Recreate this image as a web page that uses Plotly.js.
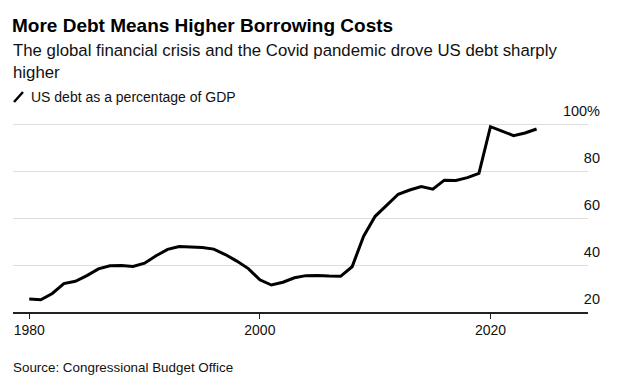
<!DOCTYPE html>
<html>
<head>
<meta charset="utf-8">
<script src="https://cdn.plot.ly/plotly-3.0.1.min.js"></script>
<style>
  html, body { margin: 0; padding: 0; background: #ffffff; }
  #chart { width: 633px; height: 383px; }
</style>
</head>
<body>
<div id="chart"></div>
<script>
// ---- Data ----
const years = [1980, 1981, 1982, 1983, 1984, 1985, 1986, 1987, 1988, 1989,
               1990, 1991, 1992, 1993, 1994, 1995, 1996, 1997, 1998, 1999,
               2000, 2001, 2002, 2003, 2004, 2005, 2006, 2007, 2008, 2009,
               2010, 2011, 2012, 2013, 2014, 2015, 2016, 2017, 2018, 2019,
               2020, 2021, 2022, 2023, 2024];
const debtPctGdp = [25.5, 25.2, 27.9, 32.1, 33.1, 35.5, 38.4, 39.7, 39.8, 39.4,
                    40.8, 44.0, 46.7, 47.9, 47.7, 47.5, 46.8, 44.5, 41.7, 38.5,
                    33.7, 31.5, 32.7, 34.6, 35.5, 35.6, 35.3, 35.2, 39.3, 52.3,
                    60.8, 65.3, 70.2, 72.0, 73.5, 72.4, 76.2, 76.1, 77.3, 79.1,
                    99.0, 97.1, 95.2, 96.3, 98.0];
const xTickVals = [1980, 2000, 2020];
const xTickText = ["1980", "2000", "2020"];
const yTickVals = [20, 40, 60, 80, 100];
const yTickText = ["20", "40", "60", "80", "100%"];

const titleText = "More Debt Means Higher Borrowing Costs";
const subtitleText = "The global financial crisis and the Covid pandemic drove US debt sharply<br>higher";
const seriesName = "US debt as a percentage of GDP";
const sourceText = "Source: Congressional Budget Office";

// ---- Layout geometry (pixels) ----
const W = 633, H = 383;
const M = { l: 13, r: 45, t: 122, b: 71 };
const plotW = W - M.l - M.r;
const plotH = H - M.t - M.b;
const px = (x) => (x - M.l) / plotW;          // pixel x -> paper x
const py = (y) => (H - M.b - y) / plotH;      // pixel y -> paper y

const FONT = "Liberation Sans, Arial, Helvetica, sans-serif";

const trace = {
  type: "scatter",
  mode: "lines",
  x: years,
  y: debtPctGdp,
  name: seriesName,
  line: { color: "#000000", width: 3 },
  hoverinfo: "skip",
  showlegend: false
};

const layout = {
  width: W,
  height: H,
  margin: M,
  paper_bgcolor: "#ffffff",
  plot_bgcolor: "#ffffff",
  font: { family: FONT, color: "#111111", size: 14 },
  showlegend: false,
  title: {
    text: "<b>" + titleText + "</b>",
    font: { family: FONT, size: 19, color: "#000000" },
    xref: "container", yref: "container",
    x: 12 / W, xanchor: "left",
    y: 1 - 25 / H, yanchor: "middle",
    pad: { t: 0, b: 0, l: 0, r: 0 }
  },
  xaxis: {
    range: [1978.59, 2028.46],
    tickmode: "array",
    tickvals: xTickVals,
    ticktext: xTickText,
    ticks: "outside",
    ticklen: 5,
    tickwidth: 1,
    tickcolor: "#222222",
    showline: true,
    linecolor: "#222222",
    linewidth: 1.5,
    showgrid: false,
    zeroline: false,
    tickfont: { family: FONT, size: 14, color: "#111111" },
    fixedrange: true
  },
  yaxis: {
    range: [20, 101],
    side: "right",
    tickmode: "array",
    tickvals: yTickVals,
    ticktext: yTickText,
    ticks: "",
    ticklabelposition: "inside",
    ticklabelstandoff: -15,
    ticklabelshift: -13,
    ticklabeloverflow: "allow",
    showgrid: true,
    gridcolor: "#dddddd",
    gridwidth: 1,
    showline: false,
    zeroline: false,
    tickfont: { family: FONT, size: 14.5, color: "#111111" },
    fixedrange: true
  },
  shapes: [
    {
      type: "line",
      xref: "paper", yref: "paper",
      x0: px(14), y0: py(102),
      x1: px(23), y1: py(92),
      line: { color: "#000000", width: 2.5 }
    }
  ],
  annotations: [
    {
      text: subtitleText,
      xref: "paper", yref: "paper",
      x: px(12), y: py(40),
      xanchor: "left", yanchor: "top",
      align: "left",
      showarrow: false,
      borderpad: 0,
      font: { family: FONT, size: 16.8, color: "#111111" }
    },
    {
      text: seriesName,
      xref: "paper", yref: "paper",
      x: px(30), y: py(88),
      xanchor: "left", yanchor: "top",
      align: "left",
      showarrow: false,
      borderpad: 0,
      font: { family: FONT, size: 14, color: "#111111" }
    },
    {
      text: sourceText,
      xref: "paper", yref: "paper",
      x: px(12), y: py(359),
      xanchor: "left", yanchor: "top",
      align: "left",
      showarrow: false,
      borderpad: 0,
      font: { family: FONT, size: 13.4, color: "#111111" }
    }
  ]
};

Plotly.newPlot("chart", [trace], layout, { displayModeBar: false, staticPlot: true });
</script>
</body>
</html>
